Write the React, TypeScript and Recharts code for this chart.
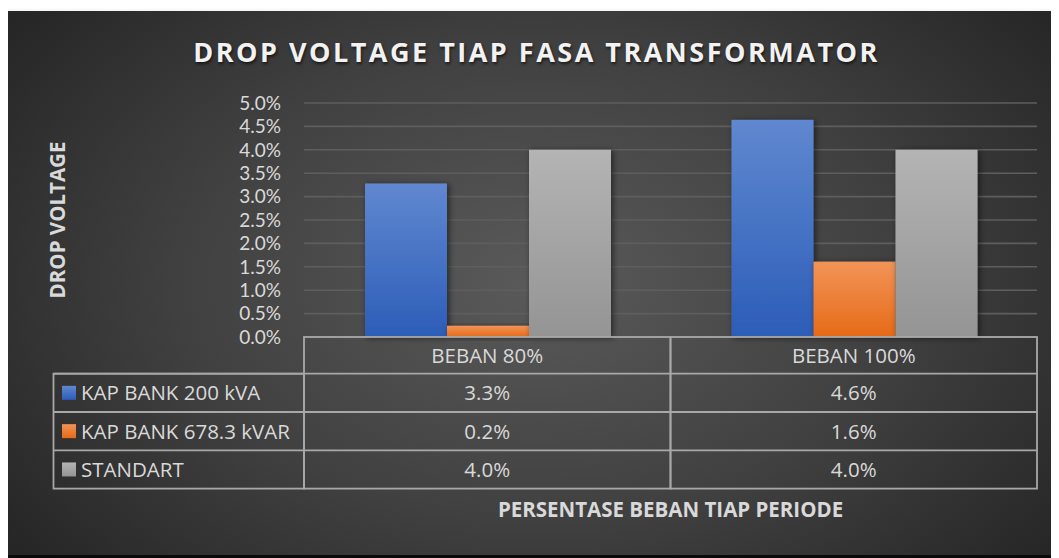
import { BarChart, Bar, XAxis, YAxis, CartesianGrid } from 'recharts'

const categories = ['BEBAN 80%', 'BEBAN 100%']
const kapBank200 = [3.28, 4.64]
const kapBank678 = [0.24, 1.61]
const standart = [4.0, 4.0]
const yTicks = [0, 0.5, 1, 1.5, 2, 2.5, 3, 3.5, 4, 4.5, 5]

const series = [
  { key: 'kap200', name: 'KAP BANK 200 kVA', values: kapBank200, top: '#6088d0', bottom: '#2c5db8' },
  { key: 'kap678', name: 'KAP BANK 678.3 kVAR', values: kapBank678, top: '#f29458', bottom: '#e66a17' },
  { key: 'std', name: 'STANDART', values: standart, top: '#b4b4b4', bottom: '#949494' },
]

const data = categories.map((name, i) => {
  const row: Record<string, string | number> = { name }
  series.forEach((s) => (row[s.key] = s.values[i]))
  return row
})

const FONT = '"Open Sans", "Noto Sans", sans-serif'
const TICK_FONT = 'Lato, "Open Sans", sans-serif'
const TEXT = '#d9d9d9'
const LINE = '#a8a8a8'
const PLOT_LEFT = 304
const PLOT_RIGHT = 1037
const COL_W = (PLOT_RIGHT - PLOT_LEFT) / categories.length
const HEAD_H = 36.7
const ROW_H = 38.3
const LEGEND_LEFT = 53.5

function TableTick(props: any) {
  const { x, y, payload } = props
  const i = payload.index
  const left = x - COL_W / 2
  const bodyTop = y + HEAD_H
  return (
    <g fontFamily={FONT} fontSize={20.5} fill={TEXT}>
      <rect x={left} y={y} width={COL_W} height={HEAD_H + ROW_H * 3} fill="none" stroke={LINE} strokeWidth={1.8} />
      {[0, 1, 2].map((r) => (
        <line key={r} x1={left} x2={left + COL_W} y1={bodyTop + r * ROW_H} y2={bodyTop + r * ROW_H} stroke={LINE} strokeWidth={1.8} />
      ))}
      <text x={x} y={y + HEAD_H / 2 + 7.5} textAnchor="middle">{payload.value}</text>
      {series.map((s, r) => (
        <text key={s.key} x={x} y={bodyTop + r * ROW_H + ROW_H / 2 + 7.5} textAnchor="middle">
          {s.values[i].toFixed(1)}%
        </text>
      ))}
      {i === 0 && (
        <g>
          <rect x={LEGEND_LEFT} y={bodyTop} width={left - LEGEND_LEFT} height={ROW_H * 3} fill="none" stroke={LINE} strokeWidth={1.8} />
          {series.map((s, r) => (
            <g key={s.key}>
              <line x1={LEGEND_LEFT} x2={left} y1={bodyTop + r * ROW_H} y2={bodyTop + r * ROW_H} stroke={LINE} strokeWidth={1.8} />
              <rect x={62} y={bodyTop + r * ROW_H + ROW_H / 2 - 7} width={14} height={14} fill={`url(#g-${s.key})`} />
              <text x={81} y={bodyTop + r * ROW_H + ROW_H / 2 + 7.5}>{s.name}</text>
            </g>
          ))}
        </g>
      )}
    </g>
  )
}

export default function App() {
  return (
    <div style={{ position: 'relative', width: 1059, height: 558, margin: '-8px 0 0 -8px', background: '#fff', overflow: 'hidden' }}>
      <div
        style={{
          position: 'absolute',
          left: 8,
          top: 11,
          width: 1060,
          height: 544,
          background: 'radial-gradient(ellipse 62% 80% at 50% 50%, #5a5a5a 0%, #404040 55%, #262626 100%)',
          boxShadow: '-4px 4px 7px rgba(0,0,0,0.35)',
        }}
      />
      <div style={{ position: 'absolute', left: 0, top: 555, width: 1059, height: 3, background: '#0a0a0a' }} />
      <div
        style={{
          position: 'absolute',
          left: 36.5,
          top: 38.3,
          width: 1000,
          textAlign: 'center',
          fontFamily: FONT,
          fontWeight: 700,
          fontSize: 27,
          lineHeight: '27px',
          letterSpacing: 2.5,
          color: '#f2f2f2',
          textShadow: '1px 2px 3px rgba(0,0,0,0.6)',
        }}
      >
        DROP VOLTAGE TIAP FASA TRANSFORMATOR
      </div>
      <div style={{ position: 'absolute', left: 0, top: 0 }}>
        <BarChart
          width={1059}
          height={558}
          data={data}
          margin={{ top: 103, right: 1059 - PLOT_RIGHT, bottom: 0, left: 40 }}
          barCategoryGap={61}
          barGap={0}
        >
          <defs>
            {series.map((s) => (
              <linearGradient key={s.key} id={`g-${s.key}`} x1="0" y1="0" x2="0" y2="1">
                <stop offset="0%" stopColor={s.top} />
                <stop offset="100%" stopColor={s.bottom} />
              </linearGradient>
            ))}
            <filter id="barShadow" x="-20%" y="-20%" width="150%" height="150%">
              <feDropShadow dx="2" dy="1" stdDeviation="3" floodColor="#000" floodOpacity="0.55" />
            </filter>
          </defs>
          <CartesianGrid vertical={false} stroke="#5e5e5e" strokeWidth={1.6} />
          <XAxis
            dataKey="name"
            height={221}
            axisLine={false}
            tickLine={false}
            tickSize={0}
            tickMargin={0}
            interval={0}
            tick={<TableTick />}
            label={{
              value: 'PERSENTASE BEBAN TIAP PERIODE',
              position: 'insideBottom',
              offset: 41,
              fill: TEXT,
              fontFamily: FONT,
              fontWeight: 700,
              fontSize: 20.5,
            }}
          />
          <YAxis
            width={264}
            domain={[0, 5]}
            ticks={yTicks}
            interval={0}
            axisLine={false}
            tickLine={false}
            tickSize={0}
            tickMargin={23}
            tickFormatter={(v: number) => `${v.toFixed(1)}%`}
            tick={{ fill: TEXT, fontFamily: TICK_FONT, fontSize: 19 }}
            label={{
              content: (p: any) => {
                const cy = p.viewBox.y + p.viewBox.height / 2
                return (
                  <text
                    x={65}
                    y={cy}
                    transform={`rotate(-90 65 ${cy})`}
                    textAnchor="middle"
                    fill={TEXT}
                    fontFamily={FONT}
                    fontWeight={700}
                    fontSize={20.5}
                  >
                    DROP VOLTAGE
                  </text>
                )
              },
            }}
          />
          {series.map((s) => (
            <Bar
              key={s.key}
              dataKey={s.key}
              name={s.name}
              isAnimationActive={false}
              shape={(p: any) => (
                <rect x={p.x} y={p.y} width={p.width} height={p.height} fill={`url(#g-${s.key})`} filter="url(#barShadow)" />
              )}
            />
          ))}
        </BarChart>
      </div>
    </div>
  )
}
